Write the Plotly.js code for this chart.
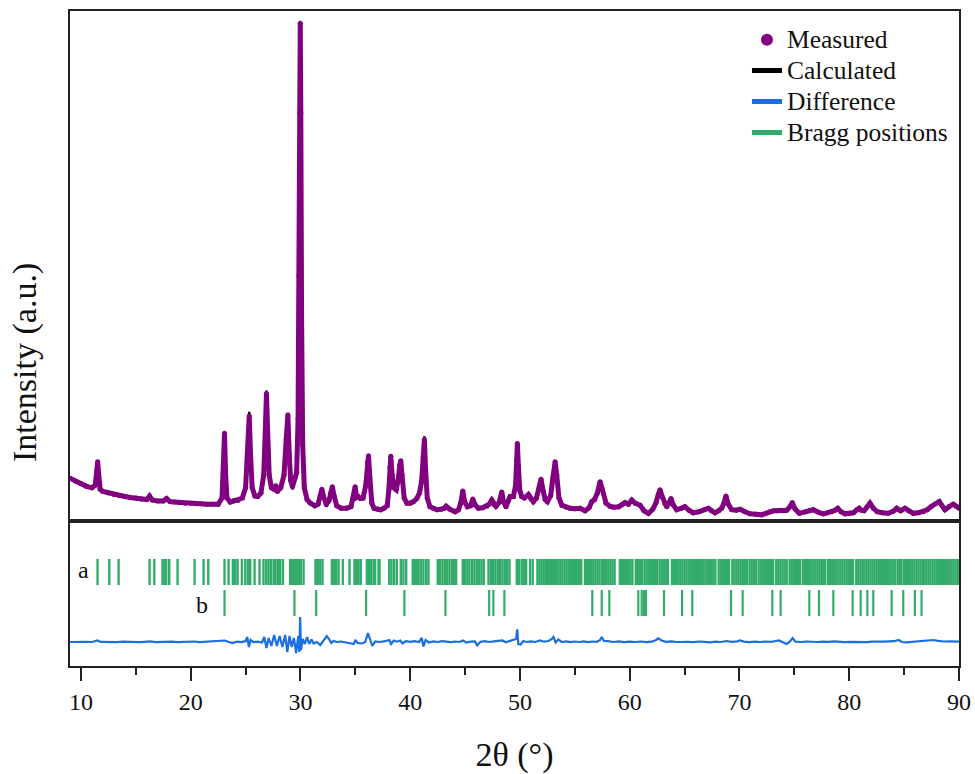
<!DOCTYPE html>
<html><head><meta charset="utf-8">
<script src="https://cdn.plot.ly/plotly-3.0.1.min.js"></script>
<style>html,body{margin:0;padding:0;background:#fff}#chart{width:975px;height:774px}</style>
</head><body><div id="chart"></div>
<script>
// 2θ grid of the measured / calculated profiles
const twoTheta = [9.0,9.5,10.0,10.5,11.0,11.3,11.45,11.52,11.6,11.75,12.0,12.5,13.0,13.5,14.0,14.5,15.0,15.5,16.0,16.25,16.5,17.0,17.5,17.8,18.1,18.5,19.0,19.5,20.0,20.5,21.0,21.5,22.0,22.5,22.85,22.98,23.08,23.18,23.3,23.6,23.9,24.3,24.7,25.0,25.15,25.33,25.45,25.6,25.85,26.1,26.4,26.65,26.8,26.9,27.0,27.15,27.35,27.6,27.75,27.9,28.2,28.5,28.7,28.85,28.98,29.1,29.27,29.5,29.65,29.78,29.87,29.93,29.98,30.03,30.1,30.2,30.35,30.6,30.9,31.3,31.6,31.8,31.95,32.1,32.35,32.6,32.75,32.9,33.05,33.3,33.7,34.2,34.6,34.85,34.98,35.1,35.25,35.45,35.7,35.95,36.1,36.2,36.32,36.5,36.7,37.0,37.3,37.6,37.9,38.05,38.15,38.23,38.35,38.5,38.72,38.9,39.05,39.14,39.25,39.45,39.7,40.0,40.3,40.6,40.85,41.05,41.18,41.29,41.4,41.55,41.8,42.1,42.42,42.8,43.1,43.27,43.6,44.09,44.4,44.6,44.79,44.95,45.21,45.5,45.7,45.9,46.21,46.6,46.98,47.2,47.43,47.65,47.82,48.1,48.34,48.5,48.73,48.95,49.1,49.4,49.6,49.7,49.76,49.85,49.98,50.16,50.4,50.77,51.0,51.22,51.5,51.75,51.92,52.1,52.3,52.5,52.8,53.0,53.2,53.35,53.55,53.81,54.2,54.56,55.0,55.47,55.93,56.3,56.54,56.8,57.05,57.3,57.5,57.84,58.2,58.5,59.0,59.3,59.57,59.87,60.18,60.5,60.94,61.3,61.7,62.1,62.4,62.6,62.76,62.95,63.2,63.37,63.55,63.76,63.95,64.28,64.7,65.03,65.4,65.79,66.3,66.8,67.16,67.45,67.77,68.1,68.38,68.6,68.77,68.95,69.29,69.7,70.05,70.5,70.96,71.5,72.02,72.4,72.78,73.1,73.39,73.7,74.0,74.3,74.6,74.81,75.05,75.45,76.0,76.4,76.72,77.2,77.64,78.0,78.4,78.7,78.95,79.25,79.61,80.0,80.37,80.7,80.91,81.1,81.34,81.6,81.89,82.2,82.55,83.0,83.55,84.0,84.32,84.5,84.68,85.07,85.4,85.83,86.3,86.74,87.1,87.5,87.85,88.2,88.45,88.72,89.1,89.48,89.75,90.0];
const measured = [8.4,7.8,7.3,6.8,6.5,7.0,10.0,11.6,9.5,6.2,5.8,5.5,5.2,5.0,4.8,4.6,4.5,4.3,4.2,4.9,4.1,3.9,3.9,4.4,3.8,3.7,3.6,3.5,3.5,3.4,3.4,3.3,3.3,3.3,4.5,10.0,17.2,9.0,4.5,3.7,3.9,4.0,4.5,6.5,12.0,20.6,13.0,6.5,4.9,4.8,5.5,9.0,18.0,25.0,18.0,9.0,6.5,6.2,6.9,5.8,6.5,9.0,16.0,20.8,13.0,8.0,6.7,8.4,9.5,20.0,48.0,80.0,97.6,80.0,40.0,15.0,6.5,4.2,3.5,3.0,3.3,5.0,6.2,4.8,3.3,4.0,5.5,6.7,5.0,3.0,2.5,2.5,2.8,5.0,6.7,4.6,4.8,4.4,4.5,7.0,11.5,12.8,8.5,3.5,2.5,2.3,2.2,2.5,3.0,6.0,10.5,12.7,9.0,6.5,6.1,8.0,11.0,11.8,9.0,4.5,3.5,3.5,3.8,4.4,5.5,8.0,12.5,16.0,10.0,4.5,2.8,2.5,2.2,2.3,2.5,2.9,2.3,1.8,2.2,3.5,5.9,3.8,2.8,3.0,4.3,3.2,2.5,2.6,2.9,3.3,4.1,3.2,2.9,3.6,5.7,3.8,2.8,4.0,4.8,4.8,7.0,12.0,15.2,11.0,6.0,4.8,4.5,5.2,4.3,3.8,4.5,6.5,8.2,6.0,4.2,3.8,5.0,8.5,11.6,9.0,4.5,3.1,2.7,2.5,2.4,2.5,2.0,2.6,3.8,4.2,5.5,7.7,6.2,3.5,2.9,2.7,2.8,3.2,3.6,3.3,4.1,3.5,3.1,2.0,1.5,2.3,3.6,5.2,6.1,4.8,3.4,2.8,3.4,4.4,3.2,2.2,2.5,2.8,2.1,1.6,1.8,2.2,2.5,2.0,1.6,2.0,2.5,3.6,4.9,3.4,2.2,2.1,2.3,1.8,1.4,1.3,1.2,1.5,1.8,2.0,2.0,2.1,2.0,2.1,2.8,3.6,2.4,1.5,1.8,2.1,2.2,1.7,1.4,1.6,1.8,2.1,2.5,1.8,1.4,1.5,1.6,2.2,2.5,2.1,2.0,2.7,3.5,2.5,1.8,1.6,1.5,1.9,2.5,2.2,2.0,2.5,2.0,1.5,1.6,1.8,2.2,2.9,3.4,3.8,3.0,2.2,2.8,3.3,2.9,2.5];
const calculated = [8.4,7.8,7.3,6.8,6.5,7.0,9.8,11.4,9.4,6.3,5.8,5.5,5.2,5.0,4.8,4.6,4.5,4.3,4.2,4.8,4.1,3.9,3.9,4.3,3.8,3.7,3.6,3.5,3.5,3.4,3.4,3.3,3.3,3.3,4.4,10.2,17.4,9.2,4.6,3.9,4.2,4.0,4.5,6.4,12.4,21.4,13.3,6.5,4.8,4.8,5.5,9.2,18.3,25.6,18.4,9.2,6.4,6.2,6.7,5.6,6.4,9.0,16.3,21.2,13.4,8.0,6.2,8.2,9.8,20.5,49.0,81.0,97.8,82.0,41.0,15.5,6.6,4.2,3.5,2.7,3.2,5.0,6.4,4.5,2.8,3.8,5.6,6.9,5.0,3.0,2.5,2.5,2.8,5.0,6.9,4.6,4.8,4.4,4.5,7.0,11.3,12.6,8.8,3.6,2.5,2.3,2.2,2.5,3.0,6.0,10.8,13.0,9.2,6.5,6.1,8.0,11.0,12.0,9.2,4.5,3.5,3.5,3.8,4.4,5.4,8.0,12.8,16.6,10.4,4.5,2.8,2.5,2.2,2.3,2.5,2.9,2.3,1.8,2.2,3.5,5.9,3.8,2.8,3.0,4.3,3.2,2.5,2.6,2.9,3.3,4.1,3.2,2.9,3.6,5.7,3.8,2.8,4.0,4.8,4.8,6.8,11.0,12.9,10.0,6.0,4.8,4.5,5.2,4.3,3.8,4.5,6.5,8.3,6.0,4.2,3.8,5.0,8.6,11.8,9.0,4.5,3.1,2.7,2.5,2.4,2.5,2.0,2.6,3.8,4.2,5.5,7.5,6.2,3.5,2.9,2.7,2.8,3.2,3.6,3.3,4.1,3.5,3.1,2.0,1.5,2.3,3.6,5.0,5.9,4.8,3.4,2.8,3.4,4.4,3.2,2.2,2.5,2.8,2.1,1.6,1.8,2.2,2.5,2.0,1.6,2.0,2.5,3.6,4.8,3.4,2.2,2.1,2.3,1.8,1.4,1.3,1.2,1.5,1.8,2.0,2.0,2.1,2.0,2.1,2.8,3.5,2.4,1.5,1.8,2.1,2.2,1.7,1.4,1.6,1.8,2.1,2.5,1.8,1.4,1.5,1.6,2.2,2.5,2.1,2.0,2.7,3.5,2.5,1.8,1.6,1.5,1.9,2.5,2.2,2.0,2.5,2.0,1.5,1.6,1.8,2.2,2.9,3.4,3.8,3.0,2.2,2.8,3.3,2.9,2.5];

// Difference curve (lower panel units)
const diffTheta = [9.0,9.5,10.0,10.5,11.0,11.5,11.8,12.3,12.8,13.3,13.8,14.3,14.8,15.3,15.8,16.3,16.8,17.3,17.8,18.3,18.8,19.3,19.8,20.3,20.8,21.3,21.8,22.3,22.8,23.1,23.4,23.8,24.2,24.6,25.0,25.15,25.3,25.45,25.7,26.1,26.5,26.7,26.9,27.1,27.35,27.6,27.85,28.1,28.35,28.6,28.8,29.0,29.2,29.4,29.6,29.8,29.9,29.97,30.05,30.2,30.4,30.6,30.8,31.0,31.2,31.5,31.8,32.1,32.4,32.6,32.8,33.0,33.3,33.7,34.1,34.6,34.85,35.0,35.2,35.6,35.9,36.15,36.35,36.55,36.8,37.2,37.7,38.1,38.25,38.5,38.8,39.1,39.3,39.6,40.0,40.4,40.8,41.05,41.2,41.4,41.7,42.1,42.5,42.9,43.3,43.7,44.1,44.5,44.8,45.1,45.5,45.9,46.1,46.4,46.8,47.2,47.6,48.0,48.4,48.7,49.1,49.45,49.65,49.75,49.85,50.05,50.3,50.6,51.0,51.4,51.8,52.2,52.6,52.9,53.05,53.25,53.5,53.8,54.2,54.6,55.0,55.4,55.8,56.2,56.6,57.0,57.3,57.45,57.65,58.0,58.5,59.0,59.5,60.0,60.5,61.0,61.5,62.0,62.4,62.6,62.9,63.3,63.8,64.3,64.8,65.3,65.8,66.3,66.8,67.3,67.8,68.3,68.8,69.3,69.8,70.05,70.4,70.9,71.4,71.9,72.4,72.9,73.3,73.6,73.9,74.3,74.6,74.84,75.1,75.6,76.1,76.6,77.1,77.6,78.1,78.6,79.1,79.6,80.1,80.6,81.1,81.6,82.1,82.6,83.1,83.6,84.1,84.5,84.8,85.2,85.7,86.2,86.7,87.2,87.65,88.1,88.6,89.1,89.6,90.0];
const difference = [24.0,24.3,23.9,24.2,24.0,25.5,24.1,23.8,24.2,23.9,24.3,24.0,24.4,23.9,24.2,24.6,23.9,24.3,24.0,24.4,23.8,24.2,24.0,24.5,23.8,24.1,24.4,24.3,25.0,25.5,24.2,23.0,24.3,23.8,24.8,29.0,19.0,26.0,23.8,24.3,23.5,29.0,18.0,28.0,20.0,31.0,20.0,30.0,19.0,31.0,14.0,30.0,19.0,28.0,13.0,30.0,14.0,49.0,16.0,27.0,22.0,29.0,22.0,26.5,22.5,24.0,21.0,25.0,30.0,27.0,23.0,25.0,24.0,24.5,23.5,22.0,22.0,26.0,23.0,22.5,24.0,33.0,26.0,20.0,24.5,24.0,24.8,26.0,22.0,25.5,24.3,25.5,22.5,24.8,24.2,24.8,24.0,28.0,19.5,26.0,23.5,24.6,24.0,24.8,24.4,23.9,24.5,24.0,25.5,23.5,24.3,24.6,20.7,24.2,24.8,24.0,24.6,25.0,25.5,23.8,25.0,25.8,27.0,36.7,22.0,21.5,25.0,24.0,24.6,24.0,25.5,24.3,25.0,27.0,29.0,23.5,26.5,24.0,24.6,23.8,24.5,24.0,24.6,23.8,24.5,24.2,26.0,29.0,25.0,24.8,24.0,24.6,23.8,24.3,24.0,24.5,23.8,24.3,26.0,27.7,25.5,24.2,24.6,24.0,24.4,24.2,23.8,24.5,24.1,23.7,24.3,24.0,25.0,24.2,24.6,25.5,24.4,23.9,24.3,24.0,24.5,24.2,25.0,25.5,24.0,22.0,24.5,28.0,24.3,24.0,24.5,24.2,24.0,24.4,24.1,24.6,23.9,23.8,24.2,24.0,24.5,23.9,24.3,24.0,24.4,24.6,24.8,26.0,24.0,23.6,24.0,24.3,24.5,25.0,26.0,25.2,24.5,24.6,24.2,24.3];

// Bragg reflection positions (2θ) for phases a and b
const braggA = [11.51,12.58,13.43,16.25,16.68,17.43,17.6,17.77,18.04,18.8,20.35,21.17,21.6,23.08,23.45,23.84,24.05,24.27,24.66,24.97,25.21,25.42,25.82,26.27,26.63,26.88,27.09,27.3,27.55,27.7,27.91,28.03,28.15,28.4,29.06,29.15,29.28,29.37,29.46,29.55,29.67,29.79,29.91,30.03,30.28,31.37,31.49,31.58,31.8,32.01,32.86,32.95,33.01,33.1,33.25,33.47,33.86,34.47,34.92,35.04,35.17,35.29,35.5,36.05,36.2,36.29,36.41,36.65,36.8,37.11,37.2,38.08,38.29,38.53,38.78,39.14,39.38,39.63,40.23,40.42,40.6,40.75,40.96,41.2,41.45,41.66,42.51,42.72,42.94,43.15,43.36,43.57,43.79,44.0,44.18,44.79,45.0,45.21,45.4,45.64,45.85,46.06,46.27,46.49,46.7,47.13,47.34,47.55,47.76,47.98,48.19,48.4,48.61,48.83,49.04,49.71,49.92,50.16,50.37,50.56,50.92,51.16,51.59,51.78,51.97,52.16,52.35,52.54,52.73,52.92,53.11,53.3,53.49,53.68,53.87,54.06,54.25,54.44,54.63,54.82,55.01,55.2,55.39,55.58,55.92,56.11,56.3,56.49,56.68,56.87,57.06,57.25,57.48,57.67,57.86,58.05,58.24,58.43,58.62,59.1,59.29,59.48,59.67,59.86,60.05,60.24,60.55,60.74,60.93,61.12,61.35,61.54,61.73,61.92,62.11,62.3,62.49,62.72,62.91,63.1,63.29,63.48,63.85,64.04,64.23,64.42,64.61,64.8,64.99,65.18,65.37,65.56,65.75,65.94,66.13,66.32,66.51,66.7,66.89,67.08,67.22,67.42,67.61,67.8,68.1,68.29,68.48,68.67,68.86,69.05,69.35,69.54,69.73,69.92,70.11,70.3,70.49,70.68,70.92,71.11,71.3,71.49,71.74,71.93,72.12,72.31,72.5,72.69,72.88,73.07,73.35,73.54,73.73,73.92,74.11,74.3,74.57,74.76,74.95,75.14,75.33,75.52,75.78,75.97,76.16,76.35,76.54,76.73,76.92,77.11,77.3,77.49,77.6,77.8,78.06,78.25,78.44,78.63,78.82,79.01,79.2,79.39,79.58,79.77,79.96,80.15,80.34,80.64,80.83,81.02,81.21,81.32,81.55,81.74,81.93,82.12,82.31,82.5,82.69,82.88,83.07,83.26,83.45,83.6,83.83,84.02,84.2,84.43,84.62,84.75,84.98,85.17,85.36,85.55,85.74,85.93,86.12,86.31,86.5,86.69,86.8,87.02,87.21,87.4,87.59,87.78,87.97,88.16,88.35,88.54,88.73,88.92,89.11,89.3,89.49,89.68,89.87,89.98];
const braggB = [23.08,29.45,31.43,35.98,39.47,43.21,47.19,47.58,48.58,56.59,57.45,58.14,60.78,61.09,61.3,61.48,63.12,64.77,65.7,69.23,70.29,72.99,73.75,76.36,77.24,78.55,80.31,81.04,81.65,82.19,83.86,84.92,85.98,86.59];

const seriesNames = ['Measured','Calculated','Difference','Bragg positions'];
const phaseLabels = ['a','b'];
const xTicks = [10,20,30,40,50,60,70,80,90];

const FONT = '"Liberation Serif", "Times New Roman", Times, serif';
const PURPLE = '#800080', BLUE = '#1c6fe3', GREEN = '#33ac6b';
const legendName = s => '<span style="font-size:25.5px">' + s + '</span>';

// vertical tick-mark rows (lower panel units)
function tickRow(pos, lo, hi) {
  const x = [], y = [];
  pos.forEach(p => { x.push(p, p, null); y.push(lo, hi, null); });
  return {x, y};
}
const rowA = tickRow(braggA, 81, 107);
const rowB = tickRow(braggB, 50, 76);

const traces = [
  {x: twoTheta, y: calculated, xaxis: 'x2', yaxis: 'y', mode: 'lines', name: legendName(seriesNames[1]),
   line: {color: '#000', width: 2.5}, legendrank: 2},
  {x: twoTheta, y: measured, xaxis: 'x2', yaxis: 'y', mode: 'lines', showlegend: false,
   line: {color: PURPLE, width: 5}, hoverinfo: 'skip'},
  {x: twoTheta, y: measured, xaxis: 'x2', yaxis: 'y', mode: 'markers', name: legendName(seriesNames[0]),
   marker: {color: PURPLE, size: 5}, legendrank: 1},
  {x: diffTheta, y: difference, xaxis: 'x', yaxis: 'y2', mode: 'lines', name: legendName(seriesNames[2]),
   line: {color: BLUE, width: 2.2}, legendrank: 3},
  {x: rowA.x, y: rowA.y, xaxis: 'x', yaxis: 'y2', mode: 'lines', name: legendName(seriesNames[3]),
   line: {color: GREEN, width: 2.4}, legendrank: 4, connectgaps: false},
  {x: rowB.x, y: rowB.y, xaxis: 'x', yaxis: 'y2', mode: 'lines', showlegend: false,
   line: {color: GREEN, width: 2.2}, connectgaps: false}
];

const frame = {showline: true, linewidth: 2, linecolor: '#222', mirror: true,
               showgrid: false, zeroline: false};

const layout = {
  width: 975, height: 774,
  margin: {l: 70, r: 16, t: 11, b: 108},
  paper_bgcolor: '#fff', plot_bgcolor: '#fff',
  font: {family: FONT, size: 24, color: '#111'},
  showlegend: true,
  legend: {x: 0.7615, y: 0.9875, xanchor: 'left', yanchor: 'top', bgcolor: 'rgba(0,0,0,0)',
           font: {family: FONT, size: 21.5, color: '#111'}, itemsizing: 'constant', tracegroupgap: 0},
  xaxis: Object.assign({}, frame, {
    domain: [0, 1], anchor: 'y2', range: [9, 90],
    tickmode: 'array', tickvals: xTicks, ticktext: xTicks.map(String),
    ticks: 'outside', ticklen: 13, tickwidth: 2, tickcolor: '#222',
    minor: {dtick: 5, tick0: 0, ticks: 'outside', ticklen: 7, tickwidth: 2, tickcolor: '#222', showgrid: false},
    tickfont: {family: FONT, size: 24, color: '#111'},
    title: {text: '2θ (°)', font: {family: FONT, size: 34, color: '#111'}, standoff: 28}
  }),
  xaxis2: Object.assign({}, frame, {
    domain: [0, 1], anchor: 'y', matches: 'x', range: [9, 90],
    showticklabels: false, ticks: ''
  }),
  yaxis: Object.assign({}, frame, {
    domain: [0.2214, 1], anchor: 'x2', range: [0, 100], showticklabels: false, ticks: ''
  }),
  yaxis2: Object.assign({}, frame, {
    domain: [0, 0.2214], anchor: 'x', range: [0, 145], showticklabels: false, ticks: ''
  }),
  annotations: [
    {text: 'Intensity (a.u.)', xref: 'paper', yref: 'paper', x: -0.0506, y: 0.4626,
     textangle: -90, showarrow: false, xanchor: 'center', yanchor: 'middle',
     font: {family: FONT, size: 34, color: '#111'}},
    {text: phaseLabels[0], xref: 'x', yref: 'y2', x: 10.2, y: 96, showarrow: false,
     xanchor: 'center', yanchor: 'middle', font: {family: FONT, size: 24, color: '#111'}},
    {text: phaseLabels[1], xref: 'x', yref: 'y2', x: 21.0, y: 61, showarrow: false,
     xanchor: 'center', yanchor: 'middle', font: {family: FONT, size: 24, color: '#111'}}
  ]
};

Plotly.newPlot('chart', traces, layout, {displayModeBar: false, staticPlot: true});
</script>
</body></html>
